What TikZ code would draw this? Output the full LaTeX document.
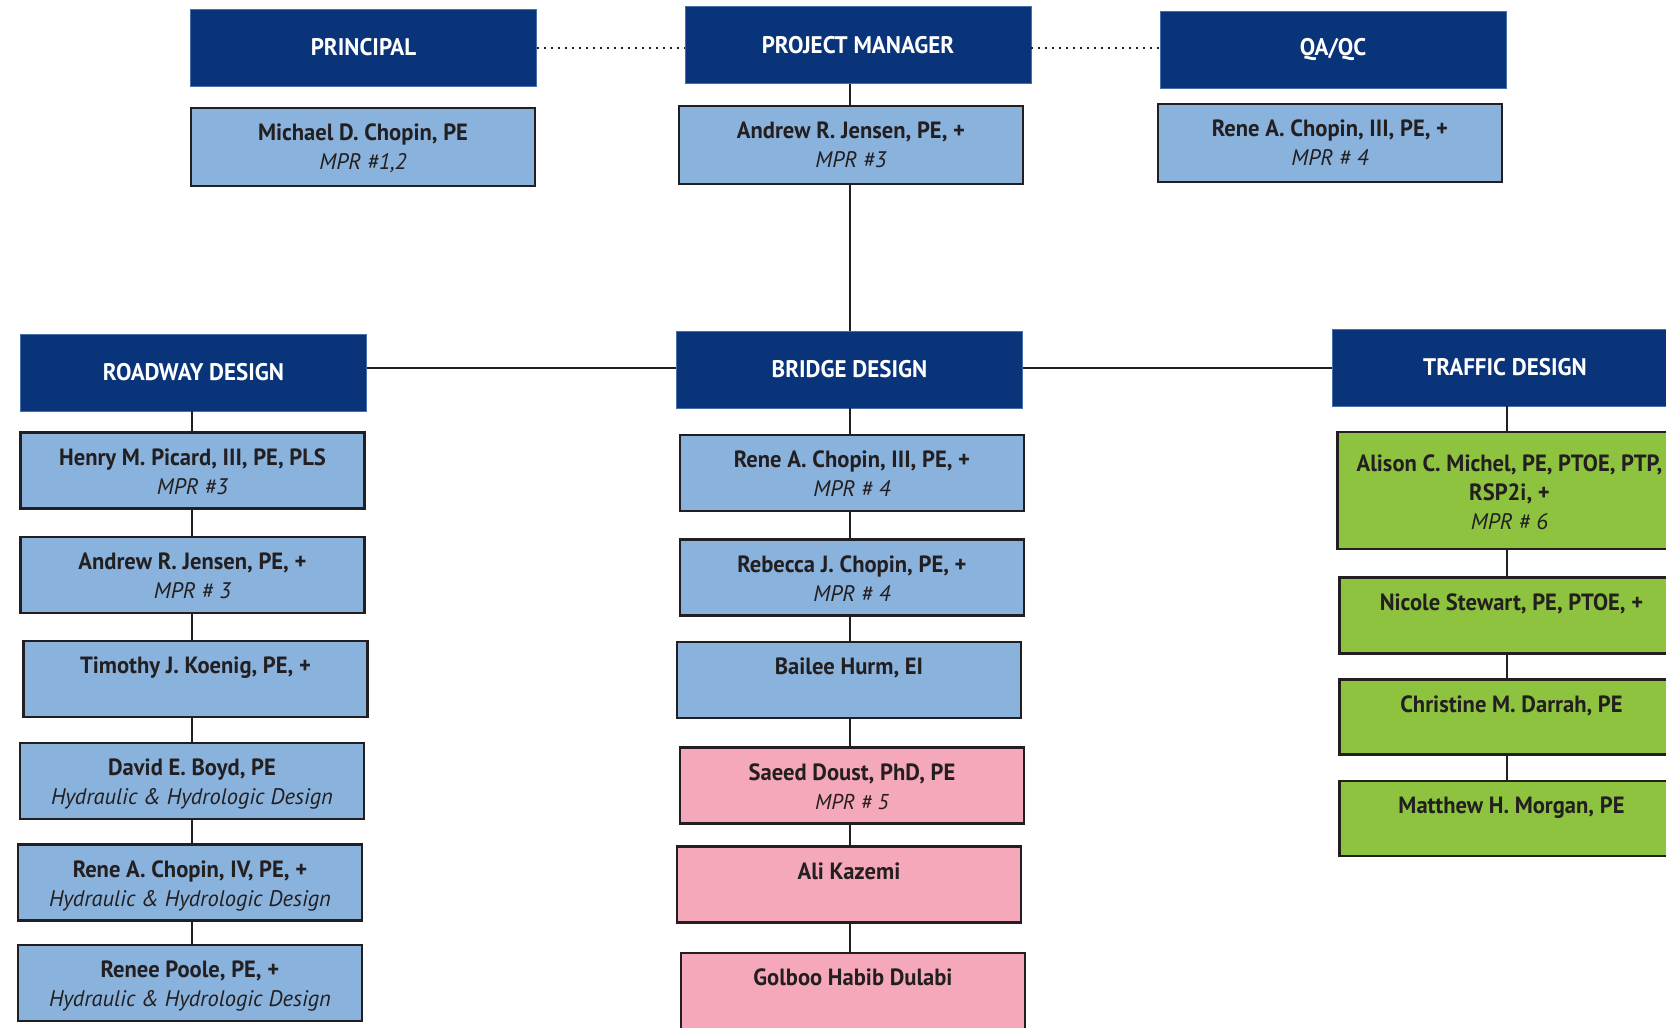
\documentclass[tikz,border=0pt]{standalone}
\usepackage{fontspec}
\setmainfont{PT Sans}
\newfontfamily\headfam[FakeStretch=0.96]{PT Sans}
\newfontfamily\namefam[FakeStretch=0.96]{PT Sans}
\newfontfamily\subfam{PT Sans}
\definecolor{navy}{RGB}{10,52,122}
\definecolor{navyedge}{RGB}{70,110,170}
\definecolor{lblue}{RGB}{137,178,220}
\definecolor{lgreen}{RGB}{141,195,62}
\definecolor{lpink}{RGB}{246,168,187}
\definecolor{ink}{RGB}{35,31,32}
\newcommand{\nm}[1]{{\namefam\bfseries\fontsize{23.5}{29}\selectfont #1}}
\newcommand{\sub}[1]{{\subfam\itshape\fontsize{22.5}{29}\selectfont #1}}
\newcommand{\card}[3][32.5pt]{\parbox[c][#2][t]{344pt}{\centering\fontsize{23}{29}\selectfont\rule{0pt}{#1}#3}}
\tikzset{
  head/.style={fill=navy, draw=navyedge, line width=0.8pt, text=white,
    minimum width=346pt, minimum height=77pt, inner sep=0pt,
    font=\headfam\bfseries\fontsize{24}{28}\selectfont},
  person/.style={fill=#1, draw=ink, line width=2.8pt, inner sep=0pt, text=ink},
  link/.style={draw=ink, line width=2.6pt},
  dots/.style={draw=ink, line width=1.6pt, dash pattern=on 1.6pt off 5.4pt}
}
\begin{document}
\begin{tikzpicture}[x=1pt,y=-1pt]
\useasboundingbox (0,0) rectangle (1666,1028);
\clip (0,0) rectangle (1666,1028);
\fill[white] (0,0) rectangle (1666,1028);

% top row
\node[head] (pr) at (363.5,47.5) {PRINCIPAL};
\node[head] (pm) at (858,45) {PROJECT MANAGER};
\node[head] (qa) at (1333,49.5) {QA/QC};
\node[person=lblue] (prp) at (363,147) {\card{78pt}{\nm{Michael D. Chopin, PE}\\\sub{MPR \#1,2}}};
\node[person=lblue] (pmp) at (851,145) {\card{78pt}{\nm{Andrew R. Jensen, PE, +}\\\sub{MPR \#3}}};
\node[person=lblue] (qap) at (1330,143) {\card{78pt}{\nm{Rene A. Chopin, III, PE, +}\\\sub{MPR \# 4}}};

% headers
\node[head] (rd) at (193.5,372.5) {ROADWAY DESIGN};
\node[head] (bd) at (849.5,369.5) {BRIDGE DESIGN};
\node[head] (td) at (1505,367.5) {TRAFFIC DESIGN};

% roadway column
\node[person=lblue] (r1) at (192.5,470.5) {\card{76pt}{\nm{Henry M. Picard, III, PE, PLS}\\\sub{MPR \#3}}};
\node[person=lblue] (r2) at (192.5,575) {\card{76pt}{\nm{Andrew R. Jensen, PE, +}\\\sub{MPR \# 3}}};
\node[person=lblue] (r3) at (195.5,679) {\card{76pt}{\nm{Timothy J. Koenig, PE, +}}};
\node[person=lblue] (r4) at (192,781) {\card{76pt}{\nm{David E. Boyd, PE}\\\sub{Hydraulic \& Hydrologic Design}}};
\node[person=lblue] (r5) at (190,882.5) {\card{76pt}{\nm{Rene A. Chopin, IV, PE, +}\\\sub{Hydraulic \& Hydrologic Design}}};
\node[person=lblue] (r6) at (190,983) {\card{76pt}{\nm{Renee Poole, PE, +}\\\sub{Hydraulic \& Hydrologic Design}}};

% bridge column
\node[person=lblue] (b1) at (852,473) {\card{76pt}{\nm{Rene A. Chopin, III, PE, +}\\\sub{MPR \# 4}}};
\node[person=lblue] (b2) at (852,577.5) {\card{76pt}{\nm{Rebecca J. Chopin, PE, +}\\\sub{MPR \# 4}}};
\node[person=lblue] (b3) at (849,680) {\card{76pt}{\nm{Bailee Hurm, EI}}};
\node[person=lpink] (b4) at (852,785.5) {\card{76pt}{\nm{Saeed Doust, PhD, PE}\\{\subfam\itshape\fontsize{21.5}{29}\selectfont MPR \# 5}}};
\node[person=lpink] (b5) at (849,884.5) {\card{76pt}{\nm{Ali Kazemi}}};
\node[person=lpink] (b6) at (853,994) {\card{82pt}{\nm{Golboo Habib Dulabi}}};

% traffic column
\node[person=lgreen] (t1) at (1509.5,490.5) {\card[39.5pt]{117pt}{\nm{Alison C. Michel, PE, PTOE, PTP,}\\\nm{RSP2i, +}\\\sub{MPR \# 6}}};
\node[person=lgreen] (t2) at (1511.5,615.5) {\card{76pt}{\nm{Nicole Stewart, PE, PTOE, +}}};
\node[person=lgreen] (t3) at (1511.5,717) {\card{75pt}{\nm{Christine M. Darrah, PE}}};
\node[person=lgreen] (t4) at (1511.5,818.5) {\card{75pt}{\nm{Matthew H. Morgan, PE}}};

% column axes
\coordinate (rx) at (192,0);
\coordinate (bx) at (850,0);
\coordinate (tx) at (1507,0);
\coordinate (dl) at (0,48);
\coordinate (hl) at (0,368);

% dotted links
\draw[dots] (pr.east |- dl) -- (pm.west |- dl);
\draw[dots] (pm.east |- dl) -- (qa.west |- dl);

% main links
\draw[link] (pm.south -| bx) -- (pmp.north -| bx);
\draw[link] (pmp.south -| bx) -- (bd.north -| bx);
\draw[link] (bd.west |- hl) -- (rd.east |- hl);
\draw[link] (bd.east |- hl) -- (td.west |- hl);

\draw[link] (rd.south -| rx) -- (r1.north -| rx);
\draw[link] (r1.south -| rx) -- (r2.north -| rx);
\draw[link] (r2.south -| rx) -- (r3.north -| rx);
\draw[link] (r3.south -| rx) -- (r4.north -| rx);
\draw[link] (r4.south -| rx) -- (r5.north -| rx);
\draw[link] (r5.south -| rx) -- (r6.north -| rx);

\draw[link] (bd.south -| bx) -- (b1.north -| bx);
\draw[link] (b1.south -| bx) -- (b2.north -| bx);
\draw[link] (b2.south -| bx) -- (b3.north -| bx);
\draw[link] (b3.south -| bx) -- (b4.north -| bx);
\draw[link] (b4.south -| bx) -- (b5.north -| bx);
\draw[link] (b5.south -| bx) -- (b6.north -| bx);

\draw[link] (td.south -| tx) -- (t1.north -| tx);
\draw[link] (t1.south -| tx) -- (t2.north -| tx);
\draw[link] (t2.south -| tx) -- (t3.north -| tx);
\draw[link] (t3.south -| tx) -- (t4.north -| tx);
\end{tikzpicture}
\end{document}
